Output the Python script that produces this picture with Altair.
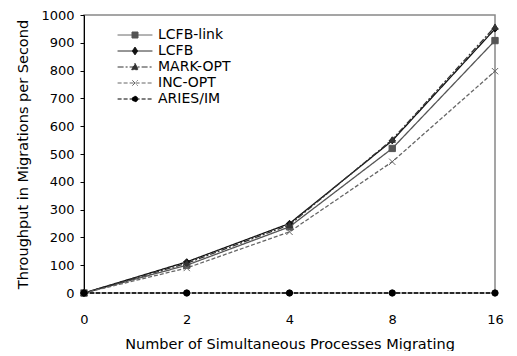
import altair as alt
import pandas as pd

x_labels = ["0", "2", "4", "8", "16"]
series = ["LCFB-link", "LCFB", "MARK-OPT", "INC-OPT", "ARIES/IM"]
lcfb_link = [0, 100, 238, 520, 908]
lcfb = [0, 112, 250, 548, 950]
mark_opt = [0, 107, 245, 552, 958]
inc_opt = [0, 90, 220, 472, 798]
aries_im = [0, 0, 0, 0, 0]

values = [lcfb_link, lcfb, mark_opt, inc_opt, aries_im]
rows = []
for name, vals in zip(series, values):
    for i, (xl, v) in enumerate(zip(x_labels, vals)):
        rows.append({"x": xl, "idx": i, "y": v, "series": name})
df = pd.DataFrame(rows)

colors = ["#555555", "#111111", "#333333", "#666666", "#000000"]
dashes = [[1, 0], [1, 0], [6, 2, 2, 2], [4, 2], [4, 2]]
point_shapes = [
    "square",
    "diamond",
    "triangle-up",
    "M-1,-1L1,1M-1,1L1,-1",
    "circle",
]
legend_paths = [
    "M-2.9,0H2.9M-0.5,-0.5H0.5V0.5H-0.5Z",
    "M-2.9,0H2.9M0,-0.65L0.45,0L0,0.65L-0.45,0Z",
    "M-2.9,0H2.9M0,-0.6L0.55,0.45H-0.55Z",
    "M-2.9,0H2.9M-0.45,-0.45L0.45,0.45M-0.45,0.45L0.45,-0.45",
    "M-2.9,0H2.9M0.45,0A0.45,0.45 0 1 1 -0.45,0A0.45,0.45 0 1 1 0.45,0Z",
]

FONT = "DejaVu Sans"

legend = alt.Legend(
    title=None,
    orient="none",
    legendX=44,
    legendY=13,
    labelFont=FONT,
    labelFontSize=14,
    labelColor="#000",
    symbolSize=144,
    symbolStrokeWidth=1,
    symbolOpacity=1,
    rowPadding=2,
    labelOffset=16,
)

xenc = alt.X(
    "x:N",
    sort=x_labels,
    scale=alt.Scale(type="point", padding=0),
    axis=alt.Axis(
        title="Number of Simultaneous Processes Migrating",
        labelAngle=0,
        ticks=False,
        domain=False,
        grid=False,
        labelPadding=20,
        titlePadding=11,
    ),
)
yenc = alt.Y(
    "y:Q",
    scale=alt.Scale(domain=[0, 1000]),
    axis=alt.Axis(
        title="Throughput in Migrations per Second",
        values=list(range(0, 1001, 100)),
        format="d",
        grid=False,
        tickSize=4,
        domainColor="#000",
        tickColor="#000",
        labelPadding=6,
        titlePadding=10,
    ),
)

def cscale():
    return alt.Scale(domain=series, range=colors)

lines = alt.Chart(df).mark_line(strokeWidth=1.3).encode(
    x=xenc,
    y=yenc,
    color=alt.Color("series:N", sort=series, scale=cscale(), legend=None),
    strokeDash=alt.StrokeDash("series:N", sort=series, scale=alt.Scale(domain=series, range=dashes), legend=None),
    order=alt.Order("idx:Q"),
)

points = alt.Chart(df).mark_point(filled=True, size=40, strokeWidth=1, opacity=1).encode(
    x=xenc,
    y=yenc,
    shape=alt.Shape("series:N", sort=series, scale=alt.Scale(domain=series, range=point_shapes), legend=None),
    fill=alt.Fill("series:N", sort=series, scale=cscale(), legend=None),
    stroke=alt.Stroke("series:N", sort=series, scale=cscale(), legend=None),
)

legend_layer = alt.Chart(df).transform_filter("false").mark_point(filled=False, opacity=1).encode(
    x=xenc,
    y=yenc,
    shape=alt.Shape("series:N", sort=series, scale=alt.Scale(domain=series, range=legend_paths), legend=legend),
    fill=alt.Fill("series:N", sort=series, scale=cscale(), legend=legend),
    stroke=alt.Stroke("series:N", sort=series, scale=cscale(), legend=legend),
    strokeDash=alt.StrokeDash("series:N", sort=series, scale=alt.Scale(domain=series, range=dashes), legend=legend),
)

chart = alt.layer(lines, points, legend_layer).resolve_scale(
    shape="independent", fill="independent", stroke="independent",
    strokeDash="independent", color="independent",
).resolve_legend(
    shape="independent", fill="independent", stroke="independent",
    strokeDash="independent", color="independent",
).properties(
    width=411, height=278,
    background="white",
    padding={"left": 15, "top": 9, "right": 7, "bottom": 0},
).configure_view(
    stroke="#888888", strokeWidth=1.5,
).configure_axis(
    labelFont=FONT, titleFont=FONT, labelFontSize=13, titleFontSize=14.5,
    titleFontWeight="normal", labelColor="#000", titleColor="#000",
)

chart.save("out.html", embed_options={"renderer": "svg", "actions": False})
